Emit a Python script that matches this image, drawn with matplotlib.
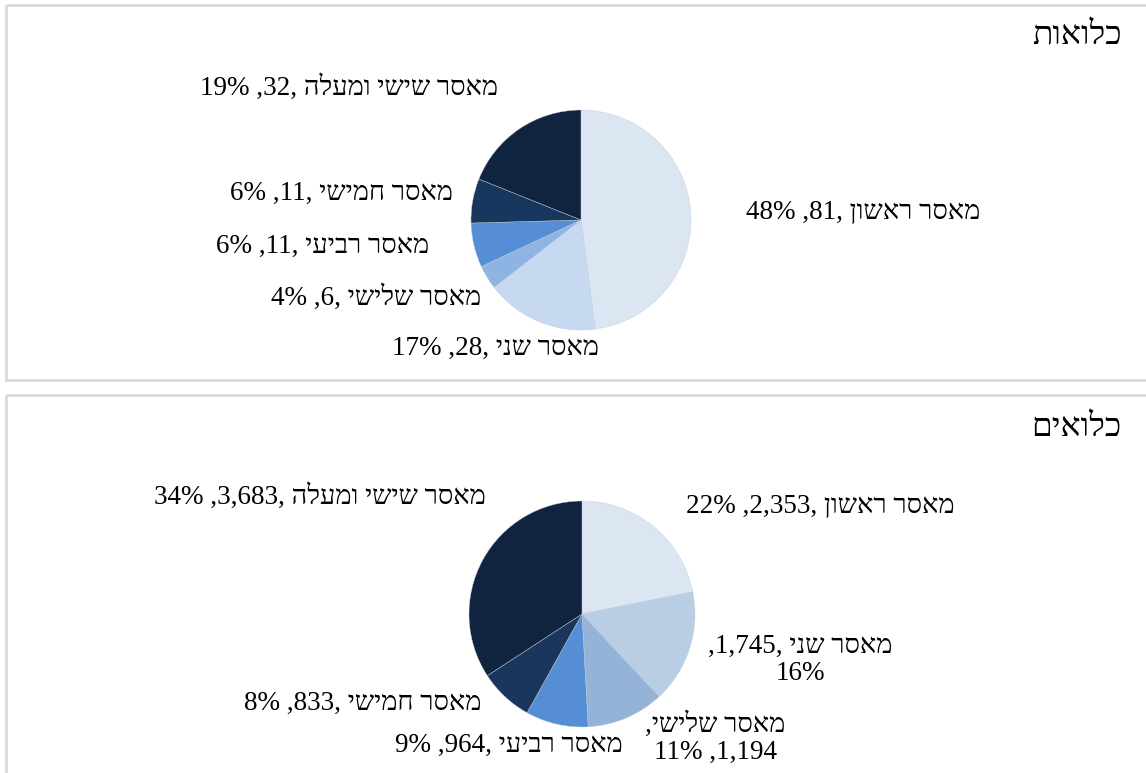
import matplotlib
matplotlib.use("Agg")
import matplotlib.pyplot as plt
from matplotlib.patches import Rectangle

plt.rcParams['font.family'] = ['Liberation Serif', 'DejaVu Sans']

# data
names = ["מאסר ראשון", "מאסר שני", "מאסר שלישי", "מאסר רביעי", "מאסר חמישי", "מאסר שישי ומעלה"]
women_vals = [81, 28, 6, 11, 11, 32]
women_pct = [48, 17, 4, 6, 6, 19]
men_vals = [2353, 1745, 1194, 964, 833, 3683]
men_pct = [22, 16, 11, 9, 8, 34]
titles = ["כלואות", "כלואים"]

women_colors = ["#DCE6F2", "#C6D9F1", "#8EB4E3", "#558ED5", "#17375E", "#10243F"]
men_colors = ["#DCE6F2", "#B9CDE5", "#95B3D7", "#558ED5", "#1A365D", "#10243F"]

W, H = 1146, 773
FS = 19.5


def vis(s):
    # matplotlib has no bidi, flip hebrew by hand
    return s[::-1]


def label(name, val, pct):
    return f"{pct}% ,{val:,}, " + vis(name)


fig = plt.figure(figsize=(W / 100, H / 100), dpi=100)
ax = fig.add_axes([0, 0, 1, 1])

# panel frames
for y0, y1 in [(5, 380), (395, 790)]:
    ax.add_patch(Rectangle((6, y0), W + 20, y1 - y0, fill=False,
                           edgecolor="#D9D9D9", linewidth=2))

ax.text(1122, 36, vis(titles[0]), ha='right', va='center', fontsize=24)
ax.text(1122, 428, vis(titles[1]), ha='right', va='center', fontsize=24)

# pies: y axis is inverted, so counterclock=True goes clockwise on screen
ax.pie(women_vals, colors=women_colors, startangle=-90, counterclock=True,
       center=(581, 220), radius=110, frame=True,
       wedgeprops=dict(linewidth=0.3, edgecolor="#c4cedb"))
ax.pie(men_vals, colors=men_colors, startangle=-90, counterclock=True,
       center=(582, 614), radius=113, frame=True,
       wedgeprops=dict(linewidth=0.3, edgecolor="#c4cedb"))
ax.set_xlim(0, W)
ax.set_ylim(H, 0)
ax.set_aspect('auto')
ax.axis('off')

women_pos = [(863, 213), (495, 348), (376, 298), (323, 246), (341, 193), (349, 88)]
for n, v, p, (x, y) in zip(names, women_vals, women_pct, women_pos):
    ax.text(x, y, label(n, v, p), ha='center', va='center', fontsize=FS)

men_pos = [(820, 507), None, None, (509, 745), (363, 703), (320, 497)]
for n, v, p, pos in zip(names, men_vals, men_pct, men_pos):
    if pos is None:
        continue
    ax.text(pos[0], pos[1], label(n, v, p), ha='center', va='center', fontsize=FS)

# the two wrapped labels
ax.text(800, 660, f",{men_vals[1]:,}, " + vis(names[1]) + f"\n{men_pct[1]}%",
        ha='center', va='center', fontsize=FS, linespacing=1.1)
ax.text(715, 738, "," + vis(names[2]) + f"\n{men_pct[2]}% ,{men_vals[2]:,}",
        ha='center', va='center', fontsize=FS, linespacing=1.1)

fig.savefig("out.png", dpi=100)
